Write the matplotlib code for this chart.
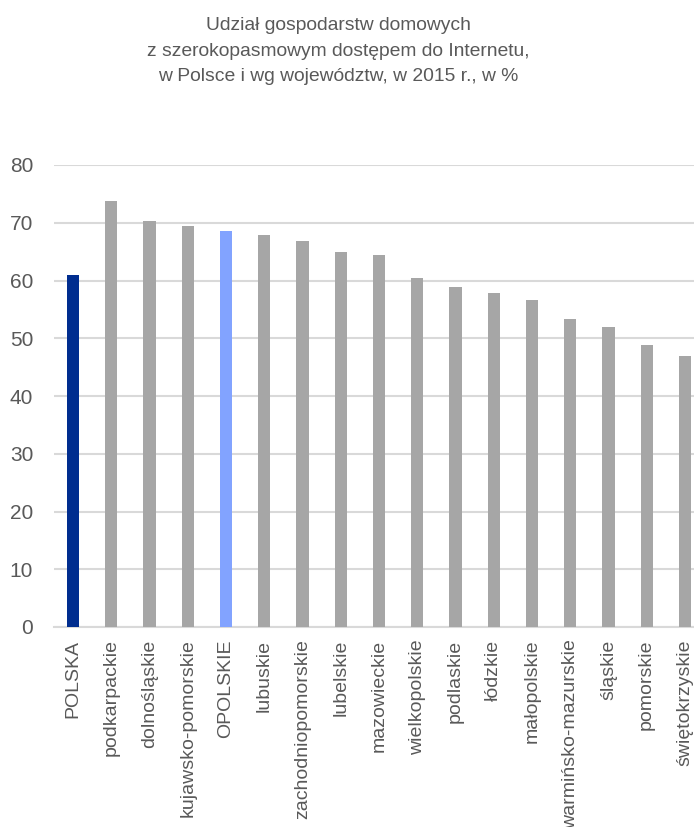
import matplotlib.pyplot as plt

plt.rcParams['font.family'] = ['Liberation Sans', 'DejaVu Sans']

regions = ["POLSKA", "podkarpackie", "dolnośląskie", "kujawsko-pomorskie", "OPOLSKIE",
           "lubuskie", "zachodniopomorskie", "lubelskie", "mazowieckie", "wielkopolskie",
           "podlaskie", "łódzkie", "małopolskie", "warmińsko-mazurskie", "śląskie",
           "pomorskie", "świętokrzyskie"]
values = [61.0, 73.8, 70.3, 69.4, 68.6, 67.8, 66.9, 65.0, 64.5, 60.5,
          58.9, 57.8, 56.6, 53.3, 51.9, 48.9, 47.0]
yticks = [0, 10, 20, 30, 40, 50, 60, 70, 80]

colors = []
for name in regions:
    if name == "POLSKA":
        colors.append('#002D8F')
    elif name == "OPOLSKIE":
        colors.append('#82A3FF')
    else:
        colors.append('#A6A6A6')

fig = plt.figure(figsize=(6.94, 8.27), dpi=100)
ax = fig.add_axes([54 / 694, 200 / 827, 650 / 694, 462 / 827])

x = list(range(len(regions)))
ax.bar(x, values, width=0.32, color=colors, zorder=3)

ax.set_xlim(-0.5, len(regions) - 0.5)
ax.set_ylim(0, 80)
ax.set_yticks(yticks)
ax.set_xticks(x)
ax.set_xticklabels(regions, rotation=90, fontsize=14, color='#595959')
ax.tick_params(axis='y', length=0, pad=15, labelsize=15, labelcolor='#595959')
ax.tick_params(axis='x', length=0, pad=9)

ax.grid(axis='y', color='#D9D9D9', linewidth=1.5, zorder=0)
for side in ['top', 'right', 'left']:
    ax.spines[side].set_visible(False)
ax.spines['bottom'].set_color('#D9D9D9')
ax.spines['bottom'].set_linewidth(1.5)

fig.text(338 / 694, 1 - 51 / 827,
         "Udział gospodarstw domowych\nz szerokopasmowym dostępem do Internetu,\nw Polsce i wg województw, w 2015 r., w %",
         ha='center', va='center', fontsize=13.9, color='#595959', linespacing=1.65)

fig.savefig("out.png", dpi=100)
